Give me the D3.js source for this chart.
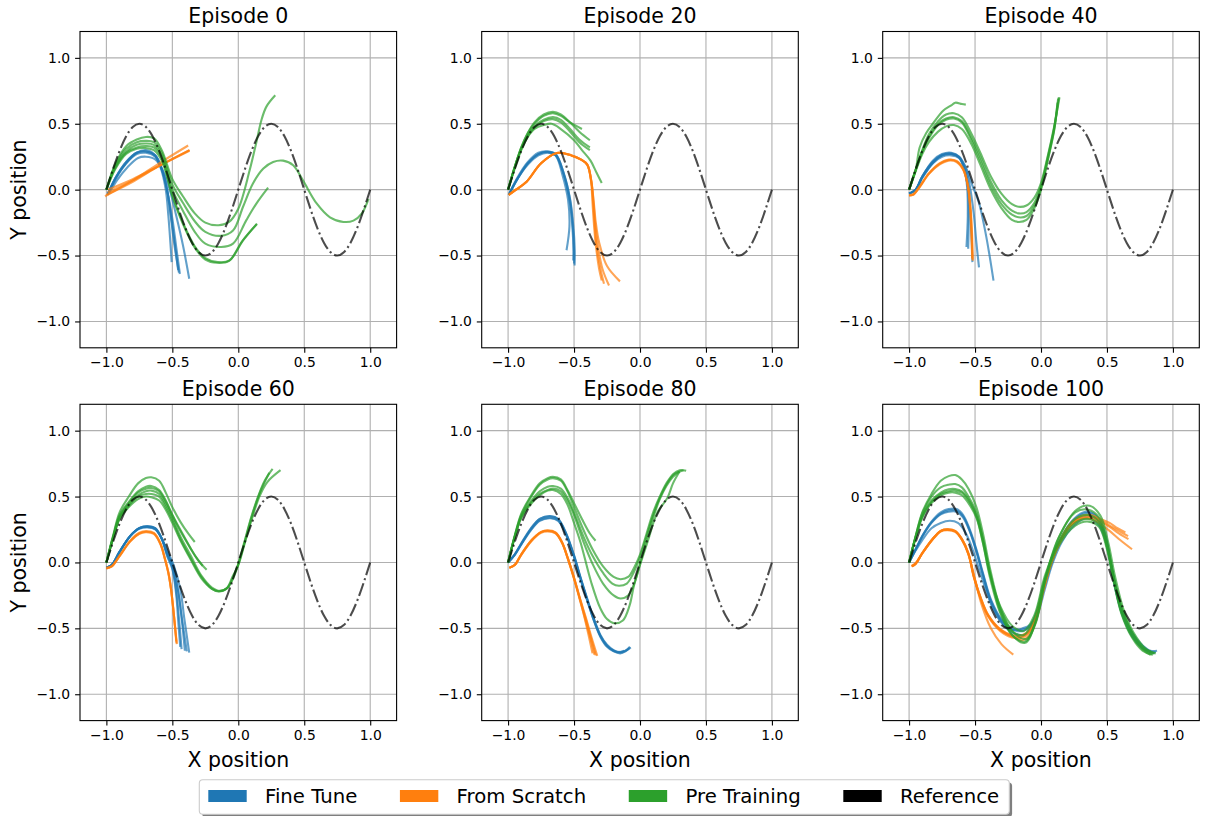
<!DOCTYPE html>
<html>
<head>
<meta charset="utf-8">
<script src="https://cdn.jsdelivr.net/npm/d3@7"></script>
<style>
  body { margin: 0; background: #fff; }
  text { font-family: "DejaVu Sans", sans-serif; fill: #000; }
</style>
</head>
<body>
<div id="chart"></div>
<script>
// ---- data ----
const episodes = ["Episode 0", "Episode 20", "Episode 40", "Episode 60", "Episode 80", "Episode 100"];
const methods = ["Fine Tune", "From Scratch", "Pre Training", "Reference"];
const methodColors = ["#1f77b4", "#ff7f0e", "#2ca02c", "#000000"];
const xTicks = [-1.0, -0.5, 0.0, 0.5, 1.0];
const yTicks = [-1.0, -0.5, 0.0, 0.5, 1.0];

// reference trajectory (dash-dot)
const referenceX = [-1.0,-0.95,-0.9,-0.85,-0.8,-0.75,-0.7,-0.65,-0.6,-0.55,-0.5,-0.45,-0.4,-0.35,-0.3,-0.25,-0.2,-0.15,-0.1,-0.05,
  0.0,0.05,0.1,0.15,0.2,0.25,0.3,0.35,0.4,0.45,0.5,0.55,0.6,0.65,0.7,0.75,0.8,0.85,0.9,0.95,1.0];
const referenceY = [0,0.1545,0.2939,0.4045,0.4755,0.5,0.4755,0.4045,0.2939,0.1545,0,-0.1545,-0.2939,-0.4045,-0.4755,-0.5,-0.4755,-0.4045,-0.2939,-0.1545,
  0,0.1545,0.2939,0.4045,0.4755,0.5,0.4755,0.4045,0.2939,0.1545,0,-0.1545,-0.2939,-0.4045,-0.4755,-0.5,-0.4755,-0.4045,-0.2939,-0.1545,0];

// Episode 0
const ep0FineTune = [
  [[-0.99,-0.04],[-0.93,0.08],[-0.85,0.2],[-0.77,0.28],[-0.7,0.3],[-0.64,0.27],[-0.59,0.17],[-0.55,0.0],[-0.53,-0.2],[-0.515,-0.4],[-0.505,-0.55]],
  [[-0.99,-0.04],[-0.93,0.09],[-0.85,0.21],[-0.77,0.28],[-0.7,0.29],[-0.63,0.26],[-0.58,0.16],[-0.54,0.0],[-0.51,-0.2],[-0.48,-0.42],[-0.456,-0.61]],
  [[-0.99,-0.03],[-0.93,0.09],[-0.85,0.2],[-0.77,0.27],[-0.7,0.28],[-0.63,0.25],[-0.58,0.15],[-0.54,0.0],[-0.5,-0.22],[-0.47,-0.44],[-0.443,-0.64]],
  [[-0.98,-0.03],[-0.92,0.07],[-0.84,0.17],[-0.76,0.24],[-0.7,0.25],[-0.63,0.23],[-0.57,0.14],[-0.52,0.0],[-0.47,-0.2],[-0.42,-0.42],[-0.372,-0.676]],
  [[-0.99,-0.04],[-0.93,0.09],[-0.85,0.21],[-0.77,0.28],[-0.7,0.29],[-0.63,0.26],[-0.58,0.16],[-0.54,0.0],[-0.51,-0.22],[-0.48,-0.45],[-0.45,-0.63]]
];
const ep0FromScratch = [
  [[-1.01,-0.05],[-0.8,0.07],[-0.6,0.2],[-0.38,0.335]],
  [[-1.0,-0.04],[-0.8,0.06],[-0.6,0.18],[-0.37,0.3]],
  [[-0.99,0.0],[-0.8,0.08],[-0.6,0.18],[-0.37,0.295]],
  [[-0.99,-0.02],[-0.8,0.07],[-0.6,0.18],[-0.37,0.3]]
];
const ep0PreTraining = [
  [[-1,0],[-0.93,0.2],[-0.85,0.33],[-0.77,0.38],[-0.7,0.4],[-0.64,0.39],[-0.58,0.3],[-0.5,0.08],[-0.42,-0.05],[-0.33,-0.18],[-0.25,-0.25],[-0.15,-0.27],[-0.07,-0.245],[0.0,-0.145],[0.086,0.147],[0.137,0.36],[0.175,0.527],[0.213,0.63],[0.28,0.716]],
  [[-1,0],[-0.93,0.19],[-0.85,0.31],[-0.77,0.36],[-0.7,0.37],[-0.64,0.36],[-0.58,0.28],[-0.5,0.04],[-0.42,-0.1],[-0.33,-0.24],[-0.25,-0.32],[-0.13,-0.35],[-0.04,-0.31],[0.036,-0.13],[0.11,0.045],[0.19,0.16],[0.264,0.21],[0.34,0.22],[0.416,0.185],[0.49,0.07],[0.594,-0.105],[0.695,-0.21],[0.797,-0.245],[0.873,-0.235],[0.937,-0.18],[0.987,-0.07]],
  [[-1,0],[-0.93,0.18],[-0.85,0.29],[-0.77,0.34],[-0.7,0.35],[-0.64,0.34],[-0.58,0.26],[-0.5,0.0],[-0.42,-0.16],[-0.33,-0.32],[-0.25,-0.41],[-0.13,-0.435],[-0.04,-0.41],[0.06,-0.233],[0.137,-0.106],[0.226,0.015]],
  [[-1,0],[-0.93,0.17],[-0.85,0.28],[-0.77,0.32],[-0.7,0.33],[-0.64,0.32],[-0.58,0.24],[-0.5,-0.04],[-0.42,-0.25],[-0.33,-0.43],[-0.25,-0.52],[-0.155,-0.55],[-0.066,-0.537],[0.036,-0.385],[0.142,-0.258]],
  [[-1,0],[-0.93,0.16],[-0.85,0.27],[-0.77,0.31],[-0.7,0.315],[-0.64,0.3],[-0.58,0.22],[-0.5,-0.05],[-0.42,-0.26],[-0.33,-0.44],[-0.25,-0.53],[-0.16,-0.555],[-0.07,-0.54],[0.03,-0.39],[0.14,-0.262]]
];

// Episode 20
const ep20FineTune = [
  [[-0.995,-0.04],[-0.93,0.08],[-0.85,0.2],[-0.77,0.27],[-0.7,0.29],[-0.64,0.27],[-0.58,0.13],[-0.53,-0.07],[-0.505,-0.28],[-0.495,-0.45],[-0.496,-0.575]],
  [[-0.995,-0.04],[-0.93,0.08],[-0.85,0.19],[-0.77,0.26],[-0.7,0.28],[-0.64,0.26],[-0.58,0.12],[-0.535,-0.08],[-0.512,-0.29],[-0.505,-0.45],[-0.506,-0.537]],
  [[-0.995,-0.04],[-0.93,0.08],[-0.85,0.2],[-0.77,0.27],[-0.7,0.285],[-0.64,0.26],[-0.59,0.12],[-0.545,-0.08],[-0.535,-0.28],[-0.557,-0.46]],
  [[-0.99,-0.03],[-0.93,0.09],[-0.85,0.21],[-0.77,0.28],[-0.7,0.29],[-0.64,0.27],[-0.58,0.13],[-0.53,-0.08],[-0.508,-0.3],[-0.5,-0.47],[-0.5,-0.56]]
];
const ep20FromScratch = [
  [[-0.995,-0.04],[-0.94,0.0],[-0.86,0.06],[-0.75,0.2],[-0.63,0.278],[-0.52,0.26],[-0.45,0.23],[-0.4,0.19],[-0.37,0.07],[-0.355,-0.1],[-0.345,-0.25],[-0.33,-0.42],[-0.3,-0.6],[-0.273,-0.714]],
  [[-0.995,-0.04],[-0.94,0.0],[-0.86,0.06],[-0.75,0.2],[-0.63,0.278],[-0.52,0.26],[-0.45,0.23],[-0.4,0.19],[-0.37,0.07],[-0.352,-0.1],[-0.34,-0.25],[-0.32,-0.42],[-0.285,-0.6],[-0.235,-0.727]],
  [[-0.995,-0.04],[-0.94,0.0],[-0.86,0.06],[-0.75,0.2],[-0.63,0.278],[-0.52,0.26],[-0.45,0.23],[-0.4,0.19],[-0.37,0.07],[-0.35,-0.1],[-0.335,-0.25],[-0.31,-0.4],[-0.25,-0.58],[-0.152,-0.696]],
  [[-0.995,-0.04],[-0.94,0.0],[-0.86,0.06],[-0.75,0.2],[-0.63,0.278],[-0.52,0.26],[-0.45,0.23],[-0.4,0.19],[-0.372,0.07],[-0.36,-0.1],[-0.35,-0.25],[-0.335,-0.42],[-0.31,-0.6],[-0.29,-0.69]]
];
const ep20PreTraining = [
  [[-1,0],[-0.95,0.17],[-0.9,0.32],[-0.85,0.43],[-0.8,0.51],[-0.73,0.57],[-0.66,0.59],[-0.6,0.57],[-0.53,0.51],[-0.46,0.44],[-0.38,0.375]],
  [[-1,0],[-0.95,0.17],[-0.9,0.32],[-0.85,0.43],[-0.8,0.5],[-0.73,0.56],[-0.66,0.58],[-0.6,0.56],[-0.53,0.51],[-0.44,0.46]],
  [[-1,0],[-0.95,0.17],[-0.9,0.31],[-0.85,0.41],[-0.8,0.48],[-0.73,0.53],[-0.66,0.55],[-0.6,0.53],[-0.53,0.46],[-0.46,0.38],[-0.38,0.32]],
  [[-1,0],[-0.95,0.17],[-0.9,0.31],[-0.85,0.41],[-0.8,0.47],[-0.73,0.52],[-0.66,0.535],[-0.6,0.51],[-0.53,0.44],[-0.46,0.36],[-0.38,0.3]],
  [[-1,0],[-0.95,0.16],[-0.9,0.3],[-0.85,0.4],[-0.8,0.46],[-0.73,0.49],[-0.67,0.5],[-0.6,0.46],[-0.5,0.375],[-0.44,0.3],[-0.375,0.22],[-0.33,0.13],[-0.29,0.05]]
];

// Episode 40
const ep40FineTune = [
  [[-1,-0.03],[-0.95,0.0],[-0.9,0.1],[-0.82,0.22],[-0.75,0.27],[-0.68,0.28],[-0.62,0.25],[-0.58,0.16],[-0.55,0.02],[-0.535,-0.2],[-0.525,-0.4],[-0.52,-0.55]],
  [[-1,-0.03],[-0.95,0.0],[-0.9,0.09],[-0.82,0.2],[-0.75,0.26],[-0.68,0.27],[-0.62,0.24],[-0.58,0.15],[-0.56,0.02],[-0.555,-0.2],[-0.565,-0.435]],
  [[-1,-0.03],[-0.95,0.0],[-0.9,0.09],[-0.82,0.2],[-0.75,0.25],[-0.68,0.26],[-0.62,0.24],[-0.57,0.16],[-0.54,0.03],[-0.51,-0.18],[-0.49,-0.4],[-0.47,-0.59]],
  [[-1,-0.03],[-0.95,0.0],[-0.9,0.1],[-0.82,0.21],[-0.75,0.26],[-0.68,0.27],[-0.62,0.25],[-0.57,0.17],[-0.52,0.03],[-0.47,-0.1],[-0.42,-0.33],[-0.39,-0.5],[-0.36,-0.69]],
  [[-1,-0.03],[-0.95,0.0],[-0.9,0.1],[-0.82,0.21],[-0.75,0.265],[-0.68,0.275],[-0.62,0.245],[-0.58,0.15],[-0.555,0.02],[-0.548,-0.2],[-0.552,-0.448]]
];
const ep40FromScratch = [
  [[-1,-0.04],[-0.97,-0.04],[-0.92,0.02],[-0.85,0.12],[-0.77,0.19],[-0.7,0.22],[-0.64,0.21],[-0.59,0.15],[-0.555,0.03],[-0.535,-0.15],[-0.525,-0.35],[-0.52,-0.53]],
  [[-1,-0.045],[-0.97,-0.04],[-0.92,0.02],[-0.85,0.12],[-0.77,0.195],[-0.7,0.225],[-0.64,0.215],[-0.59,0.155],[-0.553,0.03],[-0.533,-0.15],[-0.522,-0.35],[-0.517,-0.54]],
  [[-1,-0.04],[-0.97,-0.035],[-0.92,0.025],[-0.85,0.125],[-0.77,0.2],[-0.7,0.228],[-0.64,0.218],[-0.59,0.158],[-0.556,0.035],[-0.537,-0.15],[-0.527,-0.35],[-0.522,-0.52]]
];
const ep40PreTraining = [
  [[-1,0],[-0.95,0.15],[-0.92,0.32],[-0.87,0.43],[-0.82,0.5],[-0.74,0.6],[-0.68,0.64],[-0.65,0.66],[-0.6,0.65],[-0.57,0.645]],
  [[-1,0],[-0.95,0.15],[-0.9,0.3],[-0.85,0.42],[-0.78,0.52],[-0.72,0.57],[-0.66,0.58],[-0.6,0.55],[-0.53,0.43],[-0.46,0.28],[-0.38,0.1],[-0.3,-0.03],[-0.22,-0.11],[-0.17,-0.13],[-0.11,-0.12],[-0.05,-0.06],[0.0,0.05],[0.05,0.25],[0.1,0.48],[0.14,0.7]],
  [[-1,0],[-0.95,0.15],[-0.9,0.29],[-0.85,0.4],[-0.78,0.5],[-0.72,0.54],[-0.66,0.55],[-0.6,0.52],[-0.53,0.4],[-0.46,0.25],[-0.38,0.06],[-0.3,-0.08],[-0.22,-0.16],[-0.17,-0.18],[-0.11,-0.17],[-0.05,-0.1],[0.0,0.03],[0.05,0.24],[0.1,0.47],[0.13,0.69]],
  [[-1,0],[-0.95,0.15],[-0.9,0.29],[-0.85,0.39],[-0.78,0.49],[-0.72,0.53],[-0.66,0.54],[-0.6,0.51],[-0.53,0.38],[-0.46,0.22],[-0.38,0.03],[-0.3,-0.11],[-0.22,-0.19],[-0.17,-0.21],[-0.11,-0.2],[-0.05,-0.12],[0.0,0.01],[0.05,0.22],[0.1,0.45],[0.125,0.66]],
  [[-1,0],[-0.95,0.14],[-0.9,0.27],[-0.85,0.36],[-0.78,0.44],[-0.72,0.48],[-0.66,0.49],[-0.6,0.46],[-0.53,0.35],[-0.46,0.19],[-0.38,0.0],[-0.3,-0.14],[-0.22,-0.23],[-0.17,-0.245],[-0.11,-0.23],[-0.05,-0.14],[0.0,0.0],[0.05,0.22],[0.1,0.46],[0.135,0.7]]
];

// Episode 60
const ep60FineTune = [
  [[-1,-0.04],[-0.96,-0.02],[-0.9,0.08],[-0.82,0.2],[-0.75,0.26],[-0.69,0.275],[-0.63,0.26],[-0.58,0.18],[-0.54,0.06],[-0.5,-0.04],[-0.47,-0.22],[-0.45,-0.42],[-0.43,-0.658]],
  [[-1,-0.04],[-0.96,-0.02],[-0.9,0.08],[-0.82,0.2],[-0.75,0.26],[-0.69,0.27],[-0.63,0.255],[-0.58,0.18],[-0.54,0.07],[-0.5,-0.03],[-0.46,-0.2],[-0.43,-0.42],[-0.405,-0.67]],
  [[-1,-0.04],[-0.96,-0.02],[-0.9,0.08],[-0.82,0.2],[-0.75,0.255],[-0.69,0.265],[-0.63,0.25],[-0.58,0.18],[-0.53,0.07],[-0.49,-0.02],[-0.44,-0.2],[-0.41,-0.42],[-0.372,-0.684]],
  [[-1,-0.04],[-0.96,-0.02],[-0.9,0.08],[-0.82,0.2],[-0.75,0.26],[-0.69,0.275],[-0.63,0.26],[-0.58,0.18],[-0.54,0.05],[-0.5,-0.05],[-0.47,-0.25],[-0.455,-0.45],[-0.44,-0.64]],
  [[-1,-0.04],[-0.96,-0.02],[-0.9,0.08],[-0.82,0.2],[-0.75,0.262],[-0.69,0.272],[-0.63,0.257],[-0.58,0.18],[-0.535,0.06],[-0.495,-0.03],[-0.455,-0.22],[-0.425,-0.44],[-0.39,-0.675]]
];
const ep60FromScratch = [
  [[-1,-0.045],[-0.96,-0.03],[-0.9,0.05],[-0.82,0.16],[-0.75,0.22],[-0.7,0.233],[-0.64,0.22],[-0.59,0.14],[-0.56,0.04],[-0.53,-0.08],[-0.51,-0.2],[-0.49,-0.38],[-0.468,-0.613]],
  [[-1,-0.04],[-0.96,-0.03],[-0.9,0.05],[-0.82,0.165],[-0.75,0.225],[-0.7,0.238],[-0.64,0.224],[-0.59,0.145],[-0.56,0.045],[-0.53,-0.075],[-0.51,-0.2],[-0.49,-0.38],[-0.47,-0.6]],
  [[-1,-0.045],[-0.96,-0.03],[-0.9,0.048],[-0.82,0.158],[-0.75,0.218],[-0.7,0.23],[-0.64,0.217],[-0.59,0.138],[-0.56,0.038],[-0.53,-0.082],[-0.51,-0.205],[-0.49,-0.385],[-0.466,-0.62]]
];
const ep60PreTraining = [
  [[-1,0],[-0.95,0.2],[-0.9,0.38],[-0.83,0.5],[-0.76,0.6],[-0.7,0.64],[-0.66,0.646],[-0.6,0.62],[-0.55,0.53],[-0.5,0.42],[-0.44,0.31],[-0.38,0.22],[-0.33,0.155]],
  [[-1,0],[-0.95,0.19],[-0.9,0.36],[-0.83,0.46],[-0.76,0.54],[-0.7,0.575],[-0.66,0.58],[-0.6,0.55],[-0.55,0.47],[-0.5,0.36],[-0.44,0.25],[-0.38,0.14],[-0.32,0.04],[-0.27,-0.025]],
  [[-1,0],[-0.95,0.19],[-0.9,0.35],[-0.83,0.45],[-0.76,0.53],[-0.7,0.56],[-0.66,0.565],[-0.6,0.54],[-0.55,0.46],[-0.5,0.36],[-0.44,0.24],[-0.37,0.12],[-0.3,0.01],[-0.24,-0.055]],
  [[-1,0],[-0.95,0.18],[-0.9,0.34],[-0.83,0.44],[-0.76,0.51],[-0.7,0.54],[-0.66,0.545],[-0.6,0.52],[-0.55,0.44],[-0.5,0.34],[-0.44,0.2],[-0.36,0.05],[-0.28,-0.1],[-0.2,-0.19],[-0.14,-0.215],[-0.08,-0.19],[-0.03,-0.1],[0.0,-0.01],[0.05,0.17],[0.1,0.35],[0.15,0.5],[0.2,0.62],[0.26,0.71]],
  [[-1,0],[-0.95,0.18],[-0.9,0.33],[-0.83,0.42],[-0.76,0.48],[-0.7,0.5],[-0.66,0.495],[-0.6,0.47],[-0.55,0.4],[-0.5,0.3],[-0.44,0.17],[-0.36,0.02],[-0.28,-0.12],[-0.2,-0.2],[-0.15,-0.22],[-0.09,-0.2],[-0.04,-0.1],[0.0,-0.02],[0.05,0.15],[0.1,0.32],[0.16,0.5],[0.22,0.61],[0.32,0.7]],
  [[-1,0],[-0.95,0.18],[-0.9,0.335],[-0.83,0.43],[-0.76,0.5],[-0.7,0.52],[-0.66,0.52],[-0.6,0.5],[-0.55,0.42],[-0.5,0.32],[-0.44,0.18],[-0.36,0.03],[-0.28,-0.11],[-0.2,-0.2],[-0.145,-0.218],[-0.085,-0.195],[-0.035,-0.1],[0.0,-0.015],[0.05,0.16],[0.1,0.34],[0.16,0.52],[0.235,0.68]]
];

// Episode 80
const ep80FineTune = [
  [[-1,0],[-0.95,0.06],[-0.9,0.14],[-0.83,0.25],[-0.76,0.33],[-0.68,0.35],[-0.62,0.33],[-0.56,0.22],[-0.5,0.05],[-0.45,-0.12],[-0.4,-0.28],[-0.35,-0.43],[-0.3,-0.557],[-0.25,-0.63],[-0.2,-0.67],[-0.15,-0.685],[-0.11,-0.67],[-0.076,-0.64]],
  [[-1,0],[-0.95,0.06],[-0.9,0.14],[-0.83,0.245],[-0.76,0.32],[-0.68,0.34],[-0.62,0.32],[-0.56,0.21],[-0.5,0.04],[-0.45,-0.13],[-0.4,-0.29],[-0.35,-0.44],[-0.3,-0.565],[-0.25,-0.64],[-0.2,-0.675],[-0.15,-0.69],[-0.11,-0.675],[-0.08,-0.65]],
  [[-1,0],[-0.95,0.055],[-0.9,0.135],[-0.83,0.24],[-0.76,0.315],[-0.68,0.335],[-0.62,0.315],[-0.56,0.21],[-0.5,0.045],[-0.45,-0.125],[-0.4,-0.285],[-0.35,-0.44],[-0.3,-0.56],[-0.25,-0.635],[-0.2,-0.67],[-0.16,-0.68],[-0.12,-0.67]],
  [[-1,0],[-0.95,0.06],[-0.9,0.145],[-0.83,0.255],[-0.76,0.33],[-0.68,0.352],[-0.62,0.33],[-0.56,0.22],[-0.5,0.055],[-0.45,-0.115],[-0.4,-0.275],[-0.35,-0.425],[-0.3,-0.55],[-0.25,-0.625],[-0.2,-0.665],[-0.15,-0.68],[-0.1,-0.665],[-0.07,-0.645]]
];
const ep80FromScratch = [
  [[-0.99,-0.04],[-0.95,-0.02],[-0.9,0.06],[-0.82,0.17],[-0.75,0.23],[-0.7,0.24],[-0.64,0.225],[-0.59,0.15],[-0.55,0.04],[-0.5,-0.12],[-0.45,-0.3],[-0.42,-0.42],[-0.39,-0.55],[-0.36,-0.69]],
  [[-0.99,-0.04],[-0.95,-0.02],[-0.9,0.06],[-0.82,0.17],[-0.75,0.23],[-0.7,0.24],[-0.64,0.225],[-0.59,0.15],[-0.55,0.04],[-0.5,-0.115],[-0.45,-0.29],[-0.41,-0.42],[-0.37,-0.56],[-0.324,-0.709]],
  [[-0.99,-0.04],[-0.95,-0.02],[-0.9,0.058],[-0.82,0.165],[-0.75,0.225],[-0.7,0.236],[-0.64,0.22],[-0.59,0.145],[-0.55,0.035],[-0.5,-0.125],[-0.45,-0.305],[-0.415,-0.43],[-0.38,-0.56],[-0.345,-0.7]],
  [[-0.99,-0.04],[-0.95,-0.02],[-0.9,0.062],[-0.82,0.172],[-0.75,0.232],[-0.7,0.244],[-0.64,0.228],[-0.59,0.152],[-0.55,0.042],[-0.5,-0.118],[-0.45,-0.295],[-0.412,-0.425],[-0.375,-0.56],[-0.335,-0.705]]
];
const ep80PreTraining = [
  [[-1,0],[-0.95,0.2],[-0.9,0.37],[-0.83,0.5],[-0.76,0.6],[-0.7,0.64],[-0.66,0.65],[-0.6,0.63],[-0.55,0.55],[-0.5,0.45],[-0.44,0.33],[-0.38,0.22],[-0.337,0.165]],
  [[-1,0],[-0.95,0.2],[-0.9,0.36],[-0.83,0.49],[-0.76,0.59],[-0.7,0.63],[-0.66,0.64],[-0.6,0.62],[-0.55,0.54],[-0.5,0.42],[-0.43,0.25],[-0.36,0.1],[-0.28,-0.03],[-0.2,-0.11],[-0.147,-0.127],[-0.09,-0.11],[-0.04,-0.03],[0.0,0.06],[0.05,0.22],[0.1,0.38],[0.15,0.5],[0.2,0.6],[0.25,0.67],[0.3,0.7],[0.35,0.695]],
  [[-1,0],[-0.95,0.19],[-0.9,0.35],[-0.83,0.46],[-0.76,0.54],[-0.7,0.575],[-0.66,0.58],[-0.6,0.56],[-0.55,0.49],[-0.5,0.38],[-0.43,0.2],[-0.36,0.05],[-0.28,-0.08],[-0.21,-0.16],[-0.16,-0.177],[-0.1,-0.16],[-0.05,-0.08],[0.0,0.04],[0.05,0.2],[0.1,0.36],[0.15,0.49],[0.2,0.59],[0.26,0.67],[0.33,0.7]],
  [[-1,0],[-0.95,0.19],[-0.9,0.34],[-0.83,0.45],[-0.76,0.52],[-0.7,0.55],[-0.66,0.56],[-0.6,0.54],[-0.55,0.47],[-0.5,0.36],[-0.43,0.16],[-0.36,-0.01],[-0.28,-0.16],[-0.2,-0.25],[-0.147,-0.273],[-0.09,-0.25],[-0.04,-0.15],[0.0,-0.01],[0.05,0.17],[0.1,0.34],[0.15,0.48],[0.2,0.58],[0.25,0.65],[0.3,0.69]],
  [[-1,0],[-0.95,0.19],[-0.9,0.34],[-0.83,0.44],[-0.76,0.51],[-0.7,0.545],[-0.66,0.55],[-0.6,0.52],[-0.55,0.44],[-0.5,0.3],[-0.45,0.15],[-0.37,-0.15],[-0.3,-0.35],[-0.25,-0.43],[-0.197,-0.461],[-0.13,-0.44],[-0.08,-0.33],[-0.046,-0.177],[0.0,-0.02],[0.056,0.152],[0.132,0.38],[0.208,0.49],[0.25,0.6],[0.3,0.69]]
];

// Episode 100
const ep100FineTune = [
  [[-1,0],[-0.95,0.1],[-0.9,0.2],[-0.83,0.31],[-0.76,0.38],[-0.7,0.405],[-0.64,0.405],[-0.59,0.36],[-0.54,0.25],[-0.49,0.1],[-0.44,-0.08],[-0.38,-0.28],[-0.3,-0.43],[-0.22,-0.5],[-0.14,-0.51],[-0.08,-0.48],[-0.03,-0.38],[0.02,-0.2],[0.08,0.0],[0.15,0.18],[0.23,0.31],[0.32,0.38],[0.38,0.38],[0.44,0.33],[0.49,0.2],[0.53,0.0],[0.57,-0.2],[0.62,-0.38],[0.69,-0.53],[0.77,-0.63],[0.83,-0.67],[0.88,-0.67]],
  [[-1,0],[-0.95,0.1],[-0.9,0.2],[-0.83,0.305],[-0.76,0.37],[-0.7,0.395],[-0.64,0.395],[-0.59,0.35],[-0.54,0.24],[-0.49,0.09],[-0.44,-0.09],[-0.38,-0.29],[-0.3,-0.44],[-0.22,-0.51],[-0.14,-0.52],[-0.08,-0.49],[-0.03,-0.39],[0.02,-0.21],[0.08,-0.01],[0.15,0.17],[0.23,0.3],[0.32,0.37],[0.38,0.37],[0.44,0.32],[0.49,0.19],[0.53,-0.01],[0.57,-0.21],[0.62,-0.39],[0.69,-0.54],[0.77,-0.64],[0.83,-0.68],[0.87,-0.68]],
  [[-1,0],[-0.95,0.1],[-0.9,0.195],[-0.83,0.3],[-0.76,0.365],[-0.7,0.385],[-0.64,0.385],[-0.59,0.34],[-0.54,0.235],[-0.49,0.08],[-0.44,-0.1],[-0.38,-0.3],[-0.3,-0.45],[-0.22,-0.51],[-0.14,-0.5],[-0.08,-0.47],[-0.03,-0.37],[0.02,-0.19],[0.08,0.0],[0.15,0.17],[0.23,0.29],[0.32,0.35],[0.38,0.35],[0.44,0.3],[0.49,0.17],[0.53,-0.02],[0.57,-0.22],[0.62,-0.4],[0.69,-0.55],[0.77,-0.65],[0.86,-0.69]],
  [[-1,0],[-0.95,0.09],[-0.9,0.17],[-0.83,0.26],[-0.76,0.3],[-0.69,0.316],[-0.63,0.3],[-0.58,0.24],[-0.53,0.13],[-0.48,-0.02],[-0.42,-0.2],[-0.36,-0.36],[-0.28,-0.48],[-0.2,-0.54],[-0.13,-0.55],[-0.07,-0.5],[-0.02,-0.38],[0.03,-0.2],[0.09,0.0],[0.16,0.16],[0.24,0.27],[0.32,0.33],[0.38,0.33],[0.44,0.28],[0.49,0.16],[0.53,-0.03],[0.57,-0.23],[0.62,-0.41],[0.69,-0.56],[0.77,-0.65],[0.84,-0.68]]
];
const ep100FromScratch = [
  [[-0.98,-0.03],[-0.95,-0.01],[-0.9,0.07],[-0.82,0.18],[-0.76,0.24],[-0.71,0.253],[-0.65,0.24],[-0.6,0.18],[-0.55,0.07],[-0.51,-0.1],[-0.46,-0.26],[-0.4,-0.4],[-0.31,-0.506],[-0.22,-0.55],[-0.14,-0.55],[-0.08,-0.5],[-0.03,-0.38],[0.02,-0.18],[0.08,0.02],[0.15,0.18],[0.22,0.29],[0.3,0.35],[0.38,0.36],[0.45,0.33],[0.52,0.3],[0.58,0.26],[0.64,0.228]],
  [[-0.98,-0.03],[-0.95,-0.01],[-0.9,0.07],[-0.82,0.175],[-0.76,0.235],[-0.71,0.245],[-0.65,0.232],[-0.6,0.172],[-0.55,0.062],[-0.51,-0.11],[-0.46,-0.27],[-0.4,-0.41],[-0.31,-0.52],[-0.22,-0.57],[-0.14,-0.57],[-0.08,-0.52],[-0.03,-0.4],[0.02,-0.2],[0.08,0.0],[0.15,0.16],[0.22,0.27],[0.3,0.33],[0.38,0.34],[0.45,0.31],[0.52,0.27],[0.59,0.22],[0.663,0.177]],
  [[-0.98,-0.025],[-0.95,-0.005],[-0.9,0.072],[-0.82,0.18],[-0.76,0.238],[-0.71,0.248],[-0.65,0.235],[-0.6,0.175],[-0.55,0.065],[-0.51,-0.105],[-0.46,-0.265],[-0.4,-0.405],[-0.31,-0.51],[-0.22,-0.56],[-0.14,-0.59],[-0.08,-0.54],[-0.03,-0.42],[0.02,-0.21],[0.08,0.0],[0.15,0.17],[0.22,0.28],[0.3,0.33],[0.38,0.33],[0.45,0.29],[0.52,0.24],[0.6,0.17],[0.69,0.1]],
  [[-0.98,-0.03],[-0.95,-0.01],[-0.9,0.068],[-0.82,0.178],[-0.76,0.24],[-0.71,0.25],[-0.65,0.237],[-0.6,0.175],[-0.55,0.06],[-0.5,-0.13],[-0.45,-0.32],[-0.38,-0.5],[-0.3,-0.62],[-0.21,-0.7]],
  [[-0.98,-0.03],[-0.95,-0.01],[-0.9,0.07],[-0.82,0.18],[-0.76,0.24],[-0.71,0.25],[-0.65,0.238],[-0.6,0.178],[-0.55,0.068],[-0.51,-0.1],[-0.46,-0.26],[-0.4,-0.4],[-0.31,-0.51],[-0.22,-0.56],[-0.14,-0.56],[-0.08,-0.51],[-0.03,-0.39],[0.02,-0.19],[0.08,0.01],[0.15,0.17],[0.22,0.28],[0.3,0.34],[0.38,0.35],[0.45,0.32],[0.52,0.28],[0.59,0.24],[0.66,0.2]]
];
const ep100PreTraining = [
  [[-1,0],[-0.95,0.2],[-0.9,0.38],[-0.83,0.52],[-0.76,0.62],[-0.7,0.655],[-0.65,0.663],[-0.6,0.63],[-0.55,0.56],[-0.49,0.42],[-0.44,0.22],[-0.39,-0.03],[-0.31,-0.34],[-0.21,-0.53],[-0.11,-0.58],[-0.03,-0.41],[0.04,-0.1],[0.14,0.2],[0.27,0.4],[0.37,0.43],[0.45,0.355],[0.51,0.15],[0.56,-0.1],[0.625,-0.355],[0.7,-0.53],[0.8,-0.66],[0.87,-0.69]],
  [[-1,0],[-0.95,0.2],[-0.9,0.37],[-0.83,0.5],[-0.76,0.57],[-0.7,0.59],[-0.65,0.595],[-0.6,0.57],[-0.55,0.5],[-0.49,0.38],[-0.44,0.18],[-0.39,-0.06],[-0.31,-0.37],[-0.21,-0.56],[-0.12,-0.61],[-0.04,-0.45],[0.03,-0.13],[0.13,0.18],[0.26,0.38],[0.36,0.4],[0.44,0.34],[0.5,0.15],[0.55,-0.1],[0.62,-0.37],[0.7,-0.55],[0.78,-0.66],[0.85,-0.7]],
  [[-1,0],[-0.95,0.19],[-0.9,0.35],[-0.83,0.47],[-0.76,0.53],[-0.7,0.555],[-0.65,0.557],[-0.6,0.54],[-0.55,0.48],[-0.49,0.36],[-0.44,0.17],[-0.39,-0.07],[-0.31,-0.35],[-0.22,-0.52],[-0.13,-0.55],[-0.05,-0.42],[0.03,-0.12],[0.13,0.15],[0.26,0.33],[0.36,0.36],[0.44,0.31],[0.5,0.13],[0.55,-0.12],[0.61,-0.38],[0.69,-0.56],[0.77,-0.66],[0.83,-0.7]],
  [[-1,0],[-0.95,0.19],[-0.9,0.34],[-0.83,0.45],[-0.76,0.51],[-0.7,0.53],[-0.65,0.53],[-0.6,0.51],[-0.55,0.45],[-0.49,0.34],[-0.44,0.15],[-0.39,-0.08],[-0.31,-0.33],[-0.22,-0.48],[-0.13,-0.52],[-0.05,-0.4],[0.03,-0.1],[0.13,0.14],[0.26,0.3],[0.36,0.33],[0.44,0.29],[0.5,0.12],[0.55,-0.12],[0.62,-0.38],[0.7,-0.55],[0.78,-0.65],[0.86,-0.69]],
  [[-1,0],[-0.95,0.19],[-0.9,0.35],[-0.83,0.46],[-0.76,0.52],[-0.7,0.54],[-0.65,0.545],[-0.6,0.53],[-0.55,0.47],[-0.49,0.35],[-0.44,0.15],[-0.39,-0.1],[-0.31,-0.38],[-0.22,-0.55],[-0.12,-0.6],[-0.04,-0.46],[0.03,-0.15],[0.13,0.12],[0.26,0.28],[0.36,0.31],[0.44,0.27],[0.5,0.1],[0.55,-0.14],[0.61,-0.39],[0.69,-0.57],[0.77,-0.67],[0.84,-0.7]]
];

const runs = [
  [ep0FineTune, ep0FromScratch, ep0PreTraining],
  [ep20FineTune, ep20FromScratch, ep20PreTraining],
  [ep40FineTune, ep40FromScratch, ep40PreTraining],
  [ep60FineTune, ep60FromScratch, ep60PreTraining],
  [ep80FineTune, ep80FromScratch, ep80PreTraining],
  [ep100FineTune, ep100FromScratch, ep100PreTraining]
];

// ---- layout ----
const width = 1205, height = 816;
const colLeft = [80, 481.7, 882.7];
const rowTop = [31.5, 404.3];
const plotW = 316.6, plotH = 316.3;
const tickFont = 13.9, labelFont = 20.5, legendFont = 19.7;

const svg = d3.select("#chart").append("svg")
    .attr("width", width)
    .attr("height", height);

const refPoints = referenceX.map((d, i) => [d, referenceY[i]]);
const fmt = d3.format(".1f");

episodes.forEach((title, i) => {
    let col = i % 3, row = Math.floor(i / 3);
    let g = svg.append("g")
        .attr("transform", `translate(${colLeft[col]},${rowTop[row]})`);

    let x = d3.scaleLinear().domain([-1.2, 1.2]).range([0, plotW]);
    let y = d3.scaleLinear().domain([-1.2, 1.2]).range([plotH, 0]);

    //grid
    g.append("g").selectAll("line").data(xTicks).join("line")
        .attr("x1", d => x(d)).attr("x2", d => x(d))
        .attr("y1", 0).attr("y2", plotH)
        .attr("stroke", "#b0b0b0").attr("stroke-width", 1.1);
    g.append("g").selectAll("line").data(yTicks).join("line")
        .attr("y1", d => y(d)).attr("y2", d => y(d))
        .attr("x1", 0).attr("x2", plotW)
        .attr("stroke", "#b0b0b0").attr("stroke-width", 1.1);

    let line = d3.line()
        .x(d => x(d[0]))
        .y(d => y(d[1]))
        .curve(d3.curveCatmullRom.alpha(0.5));

    // trajectories for each method
    runs[i].forEach((set, m) => {
        g.append("g").selectAll("path").data(set).join("path")
            .attr("d", line)
            .attr("fill", "none")
            .attr("stroke", methodColors[m])
            .attr("stroke-width", 2.1)
            .attr("stroke-opacity", 0.7)
            .attr("stroke-linecap", "butt");
    });

    // reference sine
    g.append("path")
        .datum(refPoints)
        .attr("d", d3.line().x(d => x(d[0])).y(d => y(d[1])).curve(d3.curveNatural))
        .attr("fill", "none")
        .attr("stroke", "#000")
        .attr("stroke-opacity", 0.7)
        .attr("stroke-width", 2.1)
        .attr("stroke-dasharray", "13.3,3.3,2.1,3.3");

    // axes
    let xAxis = g.append("g")
        .attr("transform", `translate(0,${plotH})`)
        .call(d3.axisBottom(x).tickValues(xTicks).tickSize(4.9).tickPadding(4.9).tickFormat(fmt));
    let yAxis = g.append("g")
        .call(d3.axisLeft(y).tickValues(yTicks).tickSize(4.9).tickPadding(4.9).tickFormat(fmt));
    [xAxis, yAxis].forEach(ax => {
        ax.select(".domain").remove();
        ax.selectAll("line").attr("stroke", "#000").attr("stroke-width", 1.1);
        ax.selectAll("text")
            .style("font-family", "DejaVu Sans")
            .style("font-size", tickFont + "px")
            .attr("fill", "#000");
    });

    // frame
    g.append("rect")
        .attr("width", plotW).attr("height", plotH)
        .attr("fill", "none").attr("stroke", "#000").attr("stroke-width", 1.1);

    // title
    g.append("text")
        .attr("x", plotW / 2).attr("y", -8.3)
        .attr("text-anchor", "middle")
        .style("font-size", labelFont + "px")
        .text(title);

    if (col === 0) {
        g.append("text")
            .attr("transform", `translate(${-54},${plotH / 2}) rotate(-90)`)
            .attr("text-anchor", "middle")
            .style("font-size", labelFont + "px")
            .text("Y position");
    }
    if (row === 1) {
        g.append("text")
            .attr("x", plotW / 2).attr("y", plotH + 46)
            .attr("text-anchor", "middle")
            .style("font-size", labelFont + "px")
            .text("X position");
    }
});

// ---- legend ----
let legend = svg.append("g");
let lx = 199.3, ly = 779.7, lw = 810, lh = 34.5;
legend.append("rect")
    .attr("x", lx + 2.8).attr("y", ly + 2.8)
    .attr("width", lw).attr("height", lh).attr("rx", 3.5)
    .attr("fill", "#000").attr("fill-opacity", 0.5);
legend.append("rect")
    .attr("x", lx).attr("y", ly)
    .attr("width", lw).attr("height", lh).attr("rx", 3.5)
    .attr("fill", "#fff").attr("stroke", "#cccccc").attr("stroke-width", 1.1);

let cursor = 208.3;
methods.forEach((name, m) => {
    legend.append("rect")
        .attr("x", cursor).attr("y", 790)
        .attr("width", 38.4).attr("height", 12)
        .attr("fill", methodColors[m]);
    let t = legend.append("text")
        .attr("x", cursor + 56.7).attr("y", 803.4)
        .style("font-size", legendFont + "px")
        .text(name);
    cursor = cursor + 56.7 + t.node().getComputedTextLength() + 42.6;
});
</script>
</body>
</html>
